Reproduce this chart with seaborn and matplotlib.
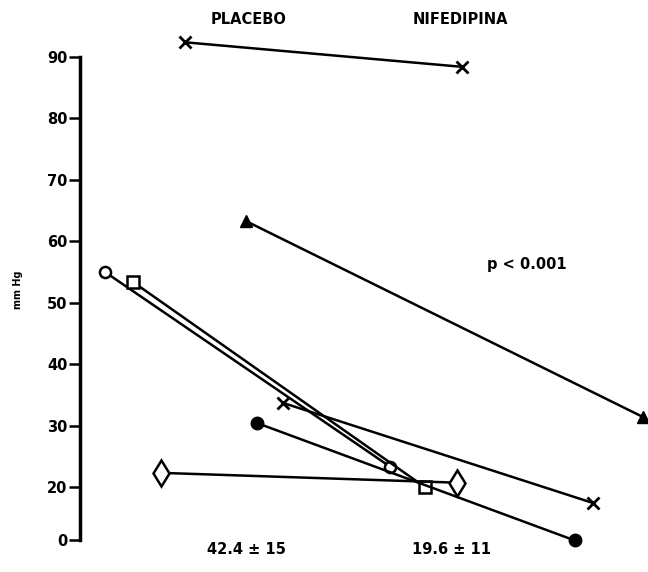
import pandas as pd
import matplotlib
matplotlib.use('Agg')
import matplotlib.pyplot as plt
import seaborn as sns

# ==============================
# Data
# ==============================

subjects = ['A', 'B', 'C', 'D', 'E', 'F', 'G']
# horizontal position of each point (the points are drawn staggered, not on one column)
placebo_x = [18.5, 29.2, 4.4, 9.3, 35.7, 31.2, 14.3]
nifedipina_x = [67.3, 99.1, 54.6, 60.7, 90.3, 87.1, 66.4]
placebo_mmhg = [92.4, 63.3, 55.0, 53.4, 33.7, 30.4, 22.3]
nifedipina_mmhg = [88.4, 31.4, 23.3, 20.0, 17.4, 11.3, 20.7]

# axis: the "0" tick sits just below 20 (broken / compressed axis)
axis_zero = 11.37
tick_labels = ['0', '20', '30', '40', '50', '60', '70', '80', '90']
tick_values = [axis_zero, 20, 30, 40, 50, 60, 70, 80, 90]

mean_labels = ['42.4 \u00b1 15', '19.6 \u00b1 11']

# marker style per subject
marker_styles = {
    'A': dict(marker='x', ms=8, mew=2, mfc='black'),
    'B': dict(marker='^', ms=8, mew=1, mfc='black'),
    'C': dict(marker='o', ms=8, mew=1.8, mfc='white'),
    'D': dict(marker='s', ms=8, mew=1.8, mfc='white'),
    'E': dict(marker='x', ms=8, mew=2, mfc='black'),
    'F': dict(marker='o', ms=9, mew=1, mfc='black'),
    'G': dict(marker='d', ms=13, mew=1.8, mfc='white'),
}

df = pd.DataFrame({
    'subject': subjects * 2,
    'x': placebo_x + nifedipina_x,
    'mmHg': placebo_mmhg + nifedipina_mmhg,
})

# ==============================
# Plot
# ==============================

sns.set_style("white")
plt.rcParams['font.family'] = ['DejaVu Sans']
plt.rcParams['font.weight'] = 'bold'
plt.rcParams['text.color'] = 'black'
plt.rcParams['ytick.color'] = 'black'
plt.rcParams['ytick.labelcolor'] = 'black'

fig = plt.figure(figsize=(6.48, 5.72), dpi=100)
ax = fig.add_axes([80 / 648, 32 / 572, 568 / 648, 510 / 572])

for s in subjects:
    st = marker_styles[s]
    sns.lineplot(data=df[df['subject'] == s], x='x', y='mmHg', ax=ax,
                 color='black', linewidth=1.8,
                 marker=st['marker'], markersize=st['ms'],
                 markeredgewidth=st['mew'], markeredgecolor='black',
                 markerfacecolor=st['mfc'], clip_on=False, zorder=3)

ax.set_xlim(0, 100)
ax.set_ylim(axis_zero, 94.4)
ax.set_yticks(tick_values)
ax.set_yticklabels(tick_labels, fontsize=10.5, fontweight='bold', color='black')
ax.set_xticks([])
ax.set_xlabel('')
ax.set_ylabel('')

for side in ['top', 'right', 'bottom']:
    ax.spines[side].set_visible(False)
ax.spines['left'].set_bounds(axis_zero, 90)
ax.spines['left'].set_linewidth(2.5)
ax.spines['left'].set_color('black')
ax.tick_params(axis='y', direction='out', length=8, width=1.8, color='black', pad=1, left=True)

# annotations
fig.text(18 / 648, 1 - 290 / 572, 'mm Hg', rotation=90, fontsize=7,
         fontweight='bold', ha='center', va='center')
fig.text(249 / 648, 1 - 19 / 572, 'PLACEBO', fontsize=10.5, fontweight='bold',
         ha='center', va='center')
fig.text(460 / 648, 1 - 19 / 572, 'NIFEDIPINA', fontsize=10.5, fontweight='bold',
         ha='center', va='center')
fig.text(527 / 648, 1 - 264 / 572, 'p < 0.001', fontsize=10.5, fontweight='bold',
         ha='center', va='center')
fig.text(246 / 648, 1 - 549 / 572, mean_labels[0], fontsize=10.5, fontweight='bold',
         ha='center', va='center')
fig.text(451 / 648, 1 - 549 / 572, mean_labels[1], fontsize=10.5, fontweight='bold',
         ha='center', va='center')

fig.savefig('out.png', dpi=100)
plt.close()
